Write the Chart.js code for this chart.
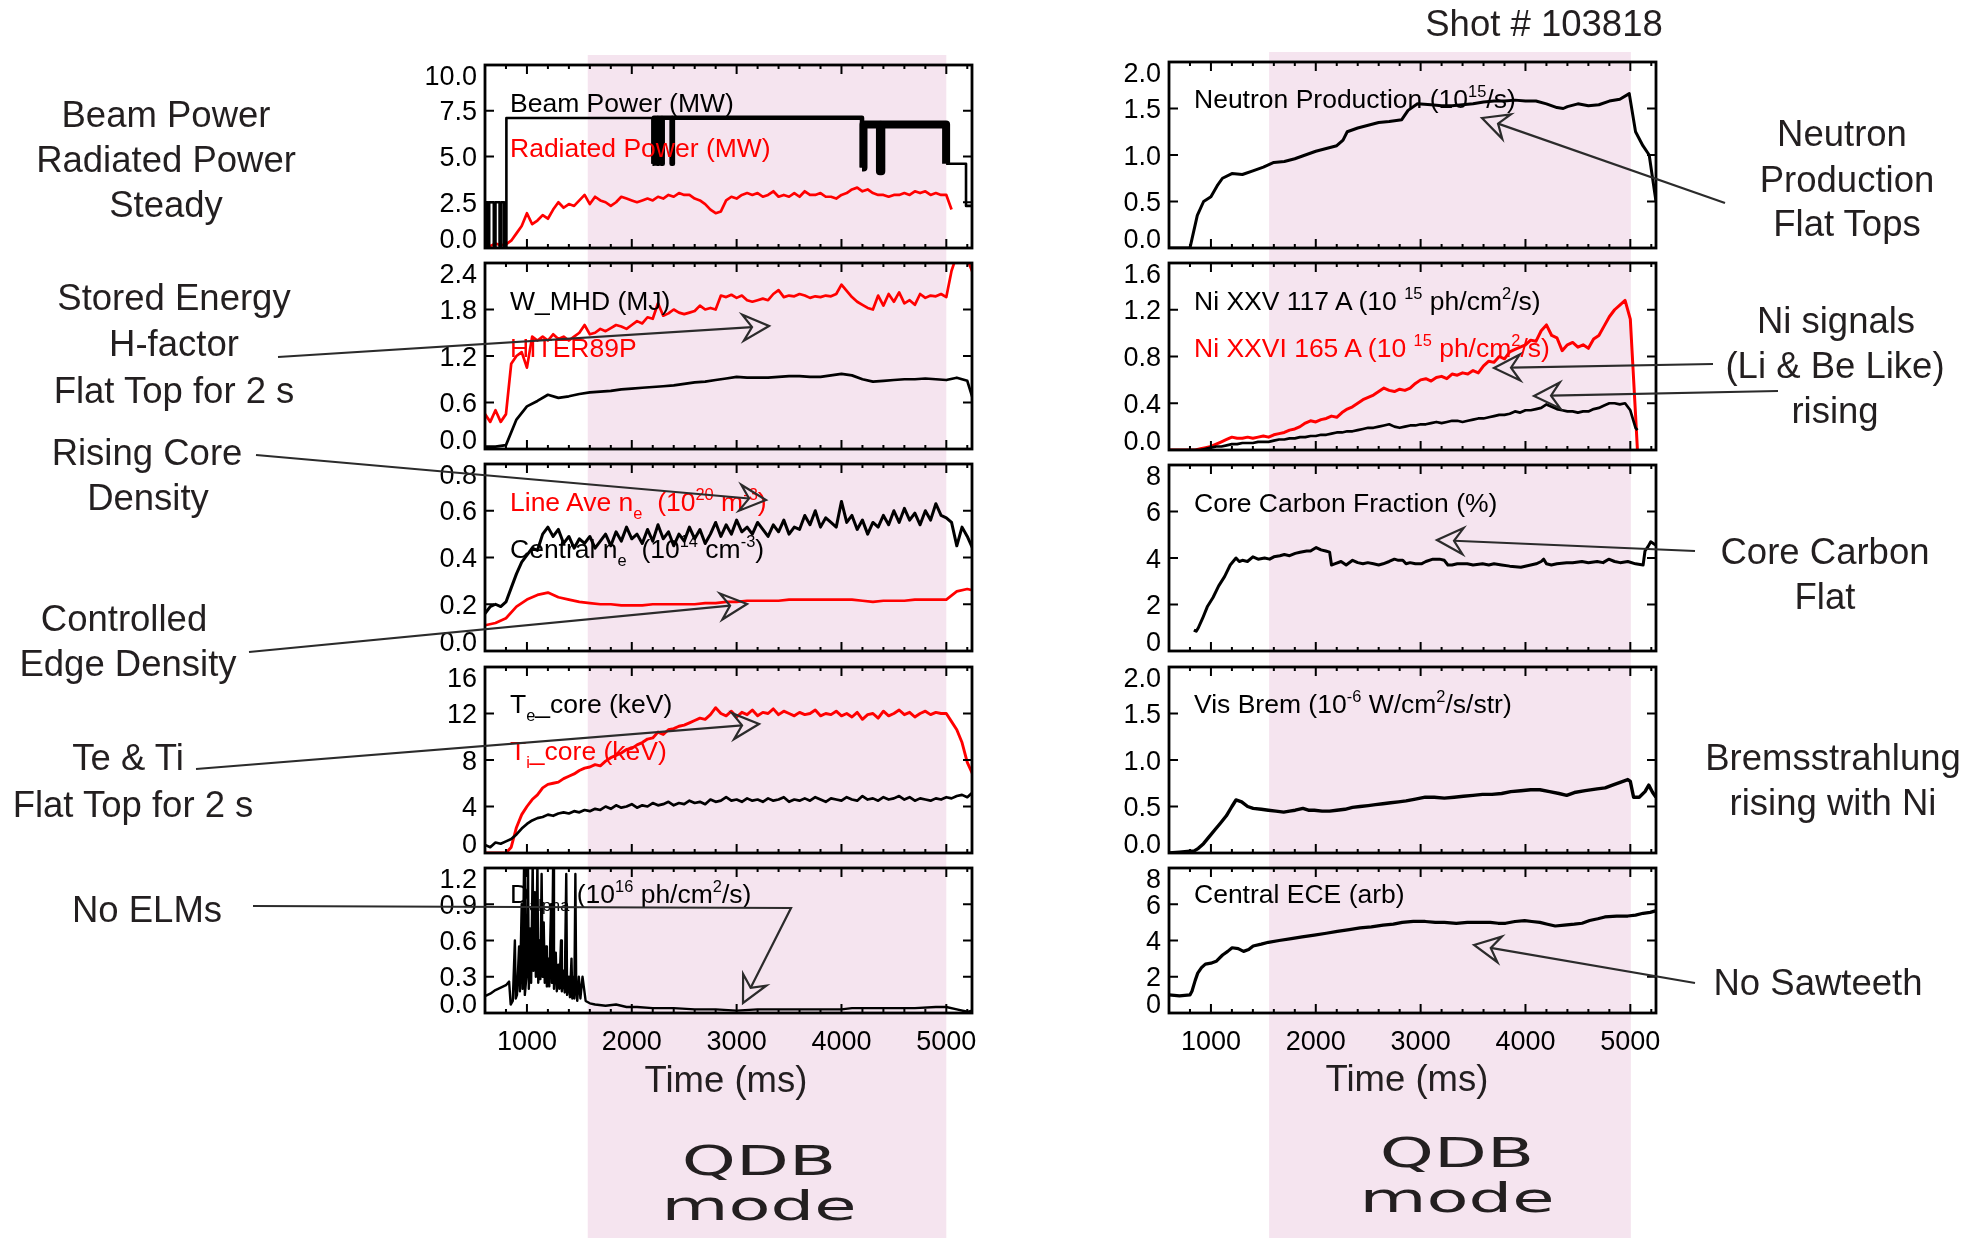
<!DOCTYPE html>
<html>
<head>
<meta charset="utf-8">
<title>Shot 103818</title>
<script src="https://cdn.jsdelivr.net/npm/chart.js@4.4.1/dist/chart.umd.min.js"></script>
<style>
  html, body { margin: 0; padding: 0; background: #fff; }
  #page { position: relative; width: 1984px; height: 1238px; overflow: hidden;
          font-family: "Liberation Sans", Arial, Helvetica, sans-serif; color: #231f20; }
  #page canvas { position: absolute; }
  .note { position: absolute; white-space: nowrap; line-height: 1; }
  .lab { color: #000; }
  .red { color: #f00; }
  .qdb { font-family: "DejaVu Sans", sans-serif; }
  sup, sub { font-size: 0.62em; vertical-align: baseline; position: relative; }
  sup { top: -0.65em; }
  sub { top: 0.5em; }
</style>
</head>
<body>
<div id="page"></div>
<script>
// ---- time bases (ms) ----
const T50 = [
  600,650,700,750,800,850,900,950,1000,1050,
  1100,1150,1200,1250,1300,1350,1400,1450,1500,1550,
  1600,1650,1700,1750,1800,1850,1900,1950,2000,2050,
  2100,2150,2200,2250,2300,2350,2400,2450,2500,2550,
  2600,2650,2700,2750,2800,2850,2900,2950,3000,3050,
  3100,3150,3200,3250,3300,3350,3400,3450,3500,3550,
  3600,3650,3700,3750,3800,3850,3900,3950,4000,4050,
  4100,4150,4200,4250,4300,4350,4400,4450,4500,4550,
  4600,4650,4700,4750,4800,4850,4900,4950,5000,5050,
  5100,5150,5200,5250
];
const T100 = [
  600,700,800,900,1000,1100,1200,1300,1400,1500,
  1600,1700,1800,1900,2000,2100,2200,2300,2400,2500,
  2600,2700,2800,2900,3000,3100,3200,3300,3400,3500,
  3600,3700,3800,3900,4000,4100,4200,4300,4400,4500,
  4600,4700,4800,4900,5000,5100,5200,5250
];
const timeTicks = [1000, 2000, 3000, 4000, 5000];
const qdbLeft = [1580, 5000];
const qdbRight = [1555, 5005];

// ---- left column ----
const tBeam = [600,622,640,684,700,739,755,782,804,2197,2210,2241,2255,2281,2295,2380,2392,4196,4210,4367,4380,4998,5188,5245];
const beamPower = [2.5,0,2.5,0,2.5,0,2.5,0,7.1,4.6,7.12,4.6,7.12,4.6,7.12,4.6,7.12,4.4,6.75,4.2,6.75,4.6,2.3,2.3];
const radPower = [
  0.2,0.1,0.25,0.15,0.2,0.4,0.8,1.2,1.9,1.3,
  1.5,1.8,1.6,2.1,2.5,2.2,2.4,2.3,2.6,2.9,
  2.4,2.8,2.6,2.5,2.3,2.5,2.8,2.7,2.6,2.5,
  2.6,2.7,2.6,2.8,2.7,2.9,2.8,3.0,2.9,2.9,
  2.7,2.6,2.4,2.1,1.9,2.0,2.6,2.8,2.7,2.9,
  3.0,2.9,3.0,2.8,2.9,3.1,2.8,2.9,2.8,3.0,
  2.8,3.1,2.9,2.9,3.0,2.8,2.8,2.7,2.9,3.0,
  3.2,3.3,3.1,3.2,3.0,2.9,2.9,2.8,2.9,2.9,
  3.0,2.9,3.1,3.0,3.1,2.9,3.0,2.9,2.9,2.1,
  null,null,null,null
];
const wMhd = [
  0.03,0.03,0.05,0.38,0.55,0.62,0.70,0.66,0.68,0.71,
  0.73,0.74,0.75,0.77,0.78,0.79,0.80,0.81,0.82,0.84,
  0.86,0.87,0.89,0.91,0.93,0.92,0.92,0.92,0.93,0.94,
  0.94,0.93,0.93,0.95,0.97,0.95,0.90,0.87,0.88,0.89,
  0.90,0.90,0.91,0.90,0.89,0.92,0.88,0.66
];
const hIter89p = [
  0.45,0.35,0.5,0.35,0.45,1.1,1.2,1.25,1.05,1.45,
  1.4,1.45,1.4,1.48,1.42,1.45,1.4,1.45,1.5,1.6,
  1.48,1.5,1.55,1.52,1.56,1.6,1.58,1.55,1.6,1.65,
  1.62,1.7,1.68,1.88,1.72,1.75,1.8,1.76,1.74,1.76,
  1.78,1.85,1.8,1.82,1.8,1.98,1.96,1.99,1.95,1.98,
  1.92,1.9,1.92,1.94,1.92,2.0,2.05,1.96,1.98,1.97,
  2.0,1.98,1.95,1.97,1.96,1.98,1.97,2.0,2.12,2.04,
  1.96,1.9,1.86,1.82,1.8,1.98,1.85,2.0,1.9,2.02,
  1.88,1.92,1.86,2.0,1.95,1.98,1.97,2.0,1.96,2.3,
  2.5,2.5,2.45,2.28
];
const neCentral = [
  0.16,0.19,0.2,0.19,0.21,0.27,0.33,0.38,0.41,0.44,
  0.43,0.5,0.53,0.49,0.52,0.46,0.49,0.44,0.48,0.46,
  0.49,0.44,0.47,0.5,0.45,0.51,0.47,0.53,0.48,0.5,
  0.46,0.52,0.47,0.54,0.48,0.51,0.45,0.5,0.47,0.53,
  0.48,0.52,0.46,0.5,0.55,0.49,0.54,0.5,0.56,0.51,
  0.53,0.5,0.55,0.52,0.49,0.54,0.51,0.56,0.5,0.53,
  0.52,0.58,0.54,0.6,0.53,0.57,0.55,0.53,0.64,0.55,
  0.58,0.52,0.56,0.5,0.55,0.53,0.58,0.54,0.6,0.55,
  0.61,0.56,0.59,0.54,0.6,0.56,0.63,0.58,0.57,0.55,
  0.45,0.53,0.49,0.44
];
const neLineAve = [
  0.11,0.12,0.14,0.19,0.22,0.24,0.25,0.23,0.22,0.21,
  0.205,0.2,0.2,0.195,0.195,0.195,0.2,0.2,0.2,0.2,
  0.2,0.205,0.205,0.21,0.21,0.215,0.215,0.215,0.215,0.22,
  0.22,0.22,0.22,0.22,0.22,0.22,0.215,0.21,0.215,0.215,
  0.215,0.22,0.22,0.22,0.22,0.255,0.265,0.26
];
const teCore = [
  0.7,0.5,0.9,0.8,1.0,1.2,1.6,2.1,2.5,2.8,
  3.0,3.1,3.3,3.2,3.4,3.5,3.4,3.6,3.5,3.7,
  3.6,3.8,3.7,4.0,3.8,4.1,3.9,4.0,4.2,3.9,
  4.1,4.0,4.3,4.1,4.2,4.4,4.1,4.3,4.2,4.5,
  4.3,4.4,4.2,4.6,4.4,4.5,4.8,4.5,4.6,4.4,
  4.7,4.5,4.6,4.4,4.7,4.5,4.6,4.8,4.4,4.6,
  4.5,4.7,4.5,4.8,4.6,4.4,4.7,4.6,4.5,4.8,
  4.6,4.5,4.9,4.6,4.7,4.5,4.8,4.6,4.7,4.9,
  4.6,4.8,4.5,4.7,4.6,4.5,4.7,4.6,4.8,4.7,
  4.9,5.0,4.8,5.2
];
const tiCore = [
  0,0,0,0,0,0.5,2.2,3.3,4.0,4.6,
  5.0,5.6,5.9,6.0,6.1,6.4,6.6,6.8,7.1,7.3,
  7.4,7.6,7.5,7.9,8.2,8.4,8.6,8.9,9.0,9.3,
  9.5,9.8,9.9,10.4,10.2,10.6,10.7,10.9,11.0,11.2,
  11.4,11.6,11.5,11.9,12.5,12.0,11.8,12.2,11.7,12.1,
  11.9,12.3,11.8,12.1,12.0,12.4,11.9,12.2,12.0,11.8,
  12.1,11.9,12.0,12.3,11.8,12.0,11.9,12.2,11.8,12.0,
  11.7,12.1,11.5,11.9,12.0,11.6,12.2,11.8,12.0,12.3,
  11.9,12.1,11.7,12.0,12.2,11.9,12.1,12.0,12.0,11.3,
  10.6,9.5,7.8,6.8
];
const tDalpha = [
  600,650,700,750,800,830,845,865,885,893,
  905,925,933,950,958,972,980,995,1010,1018,
  1030,1040,1055,1062,1075,1085,1100,1108,1118,1128,
  1140,1150,1160,1170,1182,1190,1205,1213,1230,1238,
  1250,1258,1275,1285,1300,1310,1325,1333,1350,1360,
  1375,1383,1400,1410,1425,1433,1445,1452,1462,1470,
  1480,1495,1510,1530,1560,1600,1650,1750,1850,1950,
  2050,2200,2400,2600,2800,3000,3200,3400,3600,3800,
  4000,4100,4300,4500,4700,4900,5000,5100,5200,5245
];
const dAlpha = [
  0.14,0.16,0.19,0.21,0.23,0.26,0.07,0.1,0.6,0.12,
  0.15,0.55,0.18,0.9,0.2,1.2,0.15,0.3,1.25,0.2,
  0.7,0.25,1.25,0.35,1.0,0.3,1.25,0.25,0.6,0.28,
  1.15,0.3,0.75,0.25,0.55,0.22,0.45,0.22,0.9,0.25,
  1.25,0.2,0.5,0.18,0.4,0.2,0.6,0.18,0.35,0.17,
  1.15,0.15,0.3,0.13,0.45,0.12,0.3,0.12,1.15,0.2,
  0.1,0.3,0.12,0.3,0.1,0.08,0.07,0.06,0.07,0.05,
  0.05,0.04,0.04,0.03,0.03,0.02,0.03,0.03,0.03,0.03,
  0.03,0.04,0.04,0.04,0.04,0.05,0.05,0.03,0.01,0.02
];

// ---- right column ----
const tNeutron = [
  600,700,800,820,870,930,1000,1060,1110,1200,
  1300,1400,1500,1600,1700,1800,1900,2000,2100,2200,
  2260,2300,2400,2500,2600,2700,2820,2880,2970,3100,
  3200,3300,3400,3500,3600,3700,3800,3900,4000,4100,
  4200,4300,4360,4400,4500,4600,4700,4800,4900,4990,
  5050,5120,5180,5245
];
const neutrons = [
  0,0,0,0.1,0.35,0.5,0.55,0.67,0.75,0.8,
  0.79,0.83,0.87,0.92,0.93,0.96,1.0,1.04,1.07,1.1,
  1.16,1.25,1.29,1.32,1.35,1.36,1.38,1.48,1.55,1.54,
  1.53,1.53,1.54,1.55,1.57,1.58,1.58,1.59,1.58,1.58,
  1.55,1.51,1.5,1.52,1.55,1.53,1.54,1.58,1.6,1.66,
  1.25,1.1,1.0,0.5
];
const tNi = T50.slice(0, 90).concat([5068]);
const niXXV = [
  0,0,0,0,0,0,0,0.01,0.02,0.03,
  0.03,0.04,0.05,0.05,0.06,0.06,0.06,0.07,0.07,0.07,
  0.08,0.09,0.09,0.1,0.1,0.11,0.11,0.12,0.12,0.13,
  0.13,0.14,0.15,0.15,0.16,0.16,0.17,0.18,0.19,0.19,
  0.2,0.21,0.22,0.2,0.19,0.2,0.21,0.21,0.22,0.22,
  0.23,0.24,0.23,0.24,0.25,0.25,0.24,0.25,0.26,0.27,
  0.27,0.28,0.29,0.3,0.3,0.31,0.33,0.32,0.34,0.34,
  0.35,0.36,0.39,0.37,0.35,0.34,0.33,0.33,0.32,0.33,
  0.33,0.35,0.36,0.38,0.4,0.4,0.39,0.4,0.34,0.19,
  0.17
];
const niXXVI = [
  0,0,0,0,0,0,0.01,0.02,0.03,0.05,
  0.07,0.09,0.11,0.1,0.1,0.11,0.1,0.11,0.12,0.11,
  0.13,0.14,0.15,0.17,0.18,0.2,0.23,0.25,0.24,0.26,
  0.27,0.29,0.28,0.32,0.35,0.37,0.4,0.43,0.45,0.47,
  0.5,0.53,0.51,0.5,0.52,0.51,0.53,0.57,0.6,0.61,
  0.59,0.62,0.63,0.61,0.65,0.64,0.66,0.65,0.68,0.66,
  0.72,0.76,0.75,0.8,0.78,0.84,0.86,0.88,0.9,0.94,
  0.93,1.02,1.07,0.98,0.96,0.85,0.9,0.92,0.88,0.9,
  0.87,0.95,0.98,1.06,1.14,1.2,1.24,1.28,1.12,0.3,
  0
];
const tCarbon = [
  837,860,880,920,965,1020,1074,1130,1184,1239,
  1270,1300,1348,1400,1450,1512,1560,1600,1658,1700,
  1750,1804,1850,1913,1950,2004,2050,2095,2132,2150,
  2180,2241,2290,2351,2400,2450,2496,2550,2600,2642,
  2700,2750,2788,2830,2861,2900,2950,3007,3050,3117,
  3180,3226,3260,3299,3350,3400,3445,3500,3591,3650,
  3700,3773,3850,3956,4050,4102,4150,4174,4200,4247,
  4300,4393,4450,4539,4600,4684,4740,4794,4850,4903,
  4976,5050,5122,5140,5170,5195,5245
];
const carbon = [
  0.9,0.85,1.0,1.4,1.9,2.3,2.8,3.2,3.7,4.0,
  3.85,3.9,3.85,4.05,3.95,4.0,3.95,4.05,4.1,4.15,
  4.1,4.2,4.25,4.3,4.3,4.45,4.35,4.3,4.25,3.7,
  3.75,3.85,3.7,3.9,3.8,3.75,3.8,3.75,3.7,3.75,
  3.85,3.95,3.9,3.9,3.75,3.8,3.75,3.75,3.85,3.95,
  3.95,3.9,3.7,3.7,3.75,3.75,3.75,3.7,3.75,3.7,
  3.75,3.7,3.65,3.6,3.7,3.75,3.85,3.95,3.75,3.7,
  3.75,3.8,3.8,3.85,3.8,3.85,3.8,3.95,3.85,3.8,
  3.85,3.75,3.7,4.3,4.5,4.7,4.55
];
const tBrem = [
  600,700,800,837,880,929,980,1038,1090,1147,
  1200,1239,1293,1350,1403,1480,1548,1620,1694,1750,
  1804,1877,1930,1986,2060,2132,2200,2278,2350,2423,
  2500,2569,2640,2715,2790,2861,2950,3044,3130,3226,
  3320,3408,3500,3591,3680,3773,3860,3956,4050,4138,
  4230,4320,4393,4466,4570,4684,4760,4830,4903,4976,
  5000,5031,5085,5140,5176,5213,5245
];
const visBrem = [
  0.0,0.01,0.02,0.02,0.05,0.1,0.17,0.25,0.32,0.4,
  0.5,0.57,0.55,0.5,0.48,0.47,0.46,0.45,0.44,0.45,
  0.46,0.48,0.46,0.46,0.45,0.45,0.46,0.47,0.49,0.5,
  0.51,0.52,0.53,0.54,0.55,0.56,0.58,0.6,0.6,0.59,
  0.6,0.61,0.62,0.63,0.63,0.64,0.66,0.67,0.68,0.68,
  0.66,0.64,0.62,0.65,0.67,0.69,0.7,0.73,0.76,0.79,
  0.77,0.6,0.6,0.66,0.73,0.65,0.6
];
const tEce = [
  600,700,800,819,850,874,910,947,1000,1050,
  1111,1160,1202,1260,1311,1360,1403,1480,1548,1650,
  1767,1870,1986,2100,2205,2320,2423,2530,2642,2740,
  2825,2930,3044,3140,3226,3340,3445,3550,3664,3740,
  3810,3900,3992,4060,4138,4210,4284,4370,4466,4540,
  4612,4690,4757,4870,4976,5050,5122,5190,5250
];
const centralEce = [
  1.0,0.95,1.0,1.2,1.8,2.2,2.5,2.7,2.75,2.85,
  3.2,3.4,3.6,3.55,3.4,3.5,3.7,3.8,3.9,4.0,
  4.1,4.2,4.3,4.4,4.5,4.6,4.7,4.75,4.85,4.9,
  5.0,5.05,5.05,5.0,5.0,4.95,5.0,5.0,5.0,4.95,
  4.95,5.05,5.1,5.05,5.0,4.9,4.8,4.85,4.9,4.95,
  5.1,5.2,5.3,5.35,5.35,5.4,5.5,5.55,5.65
];

// ---- layout ----
const BLACK = '#000', RED = '#ff0000', INK = '#231f20';
const FONT = '"Liberation Sans", Arial, Helvetica, sans-serif';
const LEFT = { x0: 485, x1: 972, rows: [[65,248],[263,449],[464,651],[667,853],[868,1013]], band: qdbLeft, bandTop: 55 };
const RIGHT = { x0: 1169, x1: 1656, rows: [[62,248],[263,450],[465,651],[667,853],[868,1013]], band: qdbRight, bandTop: 52 };
const PAD = { left: 90, right: 14, top: 14, bottom: 14 };

const pts = (t, v) => t.map((x, i) => ({ x: x, y: v[i] })).filter(p => p.y !== null);

const beamWidth = (x) => {
  if (x >= 4196 && x < 4998) return 8;
  if (x >= 2197 && x < 4196) return 4.5;
  return 2.6;
};

const idlFrame = {
  id: 'idlFrame',
  afterDatasetsDraw(chart, args, o) {
    const { ctx, chartArea: a } = chart;
    const xs = chart.scales.x, ys = chart.scales.y;
    ctx.save();
    ctx.strokeStyle = BLACK;
    ctx.lineWidth = 2;
    ctx.beginPath();
    o.yTicks.forEach(v => {
      const py = ys.getPixelForValue(v);
      ctx.moveTo(a.left, py); ctx.lineTo(a.left + 9, py);
      ctx.moveTo(a.right, py); ctx.lineTo(a.right - 9, py);
    });
    for (let t = 600; t <= xs.max; t += 200) {
      const px = xs.getPixelForValue(t);
      ctx.moveTo(px, a.bottom); ctx.lineTo(px, a.bottom - 4);
      ctx.moveTo(px, a.top); ctx.lineTo(px, a.top + 4);
    }
    timeTicks.forEach(t => {
      const px = xs.getPixelForValue(t);
      ctx.moveTo(px, a.bottom); ctx.lineTo(px, a.bottom - 9);
      ctx.moveTo(px, a.top); ctx.lineTo(px, a.top + 9);
    });
    ctx.stroke();
    ctx.lineWidth = 2.8;
    ctx.strokeRect(a.left, a.top, a.right - a.left, a.bottom - a.top);

    ctx.fillStyle = BLACK;
    ctx.font = '27px ' + FONT;
    ctx.textAlign = 'right';
    ctx.textBaseline = 'alphabetic';
    o.yTicks.forEach(v => {
      let c = ys.getPixelForValue(v);
      c = Math.min(Math.max(c, a.top + 10), a.bottom - 10);
      ctx.fillText(v.toFixed(o.dec), a.left - 8, c + 9.7);
    });
    if (o.xLabels) {
      ctx.textAlign = 'center';
      timeTicks.forEach(t => ctx.fillText(String(t), xs.getPixelForValue(t), a.bottom + 37));
    }
    ctx.restore();
  }
};

const page = document.getElementById('page');

function addCanvas(left, top, w, h, z) {
  const c = document.createElement('canvas');
  c.width = w; c.height = h;
  c.style.left = left + 'px'; c.style.top = top + 'px';
  c.style.width = w + 'px'; c.style.height = h + 'px';
  c.style.zIndex = z;
  page.appendChild(c);
  return c;
}

const bgCanvas = addCanvas(0, 0, 1984, 1238, 0);
const charts = [];

function makePanel(col, row, yMax, yTicks, dec, sets) {
  const [y0, y1] = col.rows[row];
  const last = row === col.rows.length - 1;
  const padB = last ? 56 : PAD.bottom;
  const left = col.x0 - PAD.left, top = y0 - PAD.top;
  const w = col.x1 - col.x0 + PAD.left + PAD.right;
  const h = y1 - y0 + PAD.top + padB;
  const canvas = addCanvas(left, top, w, h, 1);
  const chart = new Chart(canvas, {
    type: 'line',
    data: {
      datasets: sets.map(s => ({
        data: pts(s.t, s.v),
        borderColor: s.color,
        borderWidth: s.width || 2.7,
        stepped: s.stepped || false,
        segment: s.segW ? { borderWidth: c => s.segW(c.p0.parsed.x) } : undefined,
        clip: 0
      }))
    },
    options: {
      responsive: false,
      animation: false,
      events: [],
      layout: { padding: { left: PAD.left, right: PAD.right, top: PAD.top, bottom: padB } },
      elements: { point: { radius: 0 }, line: { tension: 0, borderJoinStyle: 'round' } },
      scales: {
        x: { type: 'linear', min: 600, max: 5245, display: false },
        y: { type: 'linear', min: 0, max: yMax, display: false }
      },
      plugins: {
        legend: { display: false },
        tooltip: { enabled: false },
        idlFrame: { yTicks: yTicks, dec: dec, xLabels: last }
      }
    },
    plugins: [idlFrame]
  });
  charts.push({ chart, left, top, col, row });
  return chart;
}

// left column
makePanel(LEFT, 0, 10, [0, 2.5, 5, 7.5, 10], 1, [
  { t: tBeam, v: beamPower, color: BLACK, stepped: true, segW: beamWidth },
  { t: T50, v: radPower, color: RED }
]);
makePanel(LEFT, 1, 2.4, [0, 0.6, 1.2, 1.8, 2.4], 1, [
  { t: T100, v: wMhd, color: BLACK },
  { t: T50, v: hIter89p, color: RED }
]);
makePanel(LEFT, 2, 0.8, [0, 0.2, 0.4, 0.6, 0.8], 1, [
  { t: T50, v: neCentral, color: BLACK, width: 3 },
  { t: T100, v: neLineAve, color: RED }
]);
makePanel(LEFT, 3, 16, [0, 4, 8, 12, 16], 0, [
  { t: T50, v: teCore, color: BLACK },
  { t: T50, v: tiCore, color: RED, width: 2.9 }
]);
makePanel(LEFT, 4, 1.2, [0, 0.3, 0.6, 0.9, 1.2], 1, [
  { t: tDalpha, v: dAlpha, color: BLACK, width: 2.4 }
]);
// right column
makePanel(RIGHT, 0, 2, [0, 0.5, 1, 1.5, 2], 1, [
  { t: tNeutron, v: neutrons, color: BLACK, width: 3 }
]);
makePanel(RIGHT, 1, 1.6, [0, 0.4, 0.8, 1.2, 1.6], 1, [
  { t: tNi, v: niXXV, color: BLACK },
  { t: tNi, v: niXXVI, color: RED, width: 3 }
]);
makePanel(RIGHT, 2, 8, [0, 2, 4, 6, 8], 0, [
  { t: tCarbon, v: carbon, color: BLACK, width: 3 }
]);
makePanel(RIGHT, 3, 2, [0, 0.5, 1, 1.5, 2], 1, [
  { t: tBrem, v: visBrem, color: BLACK, width: 3.4 }
]);
makePanel(RIGHT, 4, 8, [0, 2, 4, 6, 8], 0, [
  { t: tEce, v: centralEce, color: BLACK, width: 3.2 }
]);

// QDB shading behind the panels, placed through the time axis of each column
const bg = bgCanvas.getContext('2d');
bg.fillStyle = '#f5e4ef';
[LEFT, RIGHT].forEach(col => {
  const c = charts.find(p => p.col === col && p.row === 0);
  const xs = c.chart.scales.x;
  const l = c.left + xs.getPixelForValue(col.band[0]);
  const r = c.left + xs.getPixelForValue(col.band[1]);
  bg.fillRect(l, col.bandTop, r - l, 1238 - col.bandTop);
});

// ---- text ----
function addText(html, x, base, size, opts) {
  opts = opts || {};
  const d = document.createElement('div');
  d.className = 'note ' + (opts.cls || '');
  d.innerHTML = html;
  d.style.fontSize = size + 'px';
  d.style.left = x + 'px';
  d.style.top = (base - 0.846 * size) + 'px';
  d.style.zIndex = 2;
  if (opts.center) {
    d.style.transform = 'translateX(-50%)' + (opts.sx ? ' scaleX(' + opts.sx + ')' : '');
  }
  page.appendChild(d);
}

const sideNotes = [
  ['Beam Power', 166, 128], ['Radiated Power', 166, 173], ['Steady', 166, 218],
  ['Stored Energy', 174, 311], ['H-factor', 174, 357], ['Flat Top for 2 s', 174, 404],
  ['Rising Core', 147, 466], ['Density', 148, 511],
  ['Controlled', 124, 632], ['Edge Density', 128, 677],
  ['Te &amp; Ti', 128, 771], ['Flat Top for 2 s', 133, 818],
  ['No ELMs', 147, 923],
  ['Neutron', 1842, 147], ['Production', 1847, 193], ['Flat Tops', 1847, 237],
  ['Ni signals', 1836, 334], ['(Li &amp; Be Like)', 1835, 379], ['rising', 1835, 424],
  ['Core Carbon', 1825, 565], ['Flat', 1825, 610],
  ['Bremsstrahlung', 1833, 771], ['rising with Ni', 1833, 816],
  ['No Sawteeth', 1818, 996],
  ['Shot # 103818', 1544, 37],
  ['Time (ms)', 726, 1093], ['Time (ms)', 1407, 1092]
];
sideNotes.forEach(n => addText(n[0], n[1], n[2], 36.5, { center: true }));

const qdbNotes = [['QDB', 759, 1175], ['mode', 759, 1220], ['QDB', 1457, 1167], ['mode', 1457, 1212]];
qdbNotes.forEach(n => addText(n[0], n[1], n[2], 40, { center: true, sx: 1.72, cls: 'qdb' }));

const panelLabels = [
  ['Beam Power (MW)', 510, 112, 'lab'],
  ['Radiated Power (MW)', 510, 157, 'red'],
  ['W_MHD (MJ)', 510, 310, 'lab'],
  ['HITER89P', 510, 357, 'red'],
  ['Line Ave n<sub>e</sub>&nbsp; (10<sup>20</sup> m<sup>-3</sup>)', 510, 511, 'red'],
  ['Central n<sub>e</sub>&nbsp; (10<sup>14</sup> cm<sup>-3</sup>)', 510, 558, 'lab'],
  ['T<sub>e</sub>_core (keV)', 510, 713, 'lab'],
  ['T<sub>i</sub>_core (keV)', 510, 760, 'red'],
  ['D<sub>alpha</sub> (10<sup>16</sup> ph/cm<sup>2</sup>/s)', 510, 903, 'lab'],
  ['Neutron Production (10<sup>15</sup>/s)', 1194, 108, 'lab'],
  ['Ni XXV 117 A (10 <sup>15</sup> ph/cm<sup>2</sup>/s)', 1194, 310, 'lab'],
  ['Ni XXVI 165 A (10 <sup>15</sup> ph/cm<sup>2</sup>/s)', 1194, 357, 'red'],
  ['Core Carbon Fraction (%)', 1194, 512, 'lab'],
  ['Vis Brem (10<sup>-6</sup> W/cm<sup>2</sup>/s/str)', 1194, 713, 'lab'],
  ['Central ECE (arb)', 1194, 903, 'lab']
];
panelLabels.forEach(n => addText(n[0], n[1], n[2], 26.5, { cls: n[3] }));

// ---- arrows ----
const arrows = [
  [[278, 357], [769, 326]],
  [[256, 455], [766, 500]],
  [[249, 652], [747, 604]],
  [[196, 769], [759, 724]],
  [[253, 906], [791, 908], [743, 1003]],
  [[1725, 203], [1482, 118]],
  [[1713, 364], [1494, 368]],
  [[1778, 391], [1534, 396]],
  [[1695, 551], [1437, 540]],
  [[1695, 983], [1474, 945]]
];
const fg = addCanvas(0, 0, 1984, 1238, 3).getContext('2d');
fg.strokeStyle = '#2b2b2b';
fg.lineWidth = 2.2;
fg.lineJoin = 'miter';
arrows.forEach(path => {
  const tip = path[path.length - 1], prev = path[path.length - 2];
  const ang = Math.atan2(tip[1] - prev[1], tip[0] - prev[0]);
  const ux = Math.cos(ang), uy = Math.sin(ang);
  const L = 26, W = 13, N = 17;
  const notch = [tip[0] - N * ux, tip[1] - N * uy];
  fg.beginPath();
  fg.moveTo(path[0][0], path[0][1]);
  for (let i = 1; i < path.length - 1; i++) fg.lineTo(path[i][0], path[i][1]);
  fg.lineTo(notch[0], notch[1]);
  fg.stroke();
  fg.beginPath();
  fg.moveTo(tip[0], tip[1]);
  fg.lineTo(tip[0] - L * ux - W * uy, tip[1] - L * uy + W * ux);
  fg.lineTo(notch[0], notch[1]);
  fg.lineTo(tip[0] - L * ux + W * uy, tip[1] - L * uy - W * ux);
  fg.closePath();
  fg.stroke();
});
</script>
</body>
</html>
